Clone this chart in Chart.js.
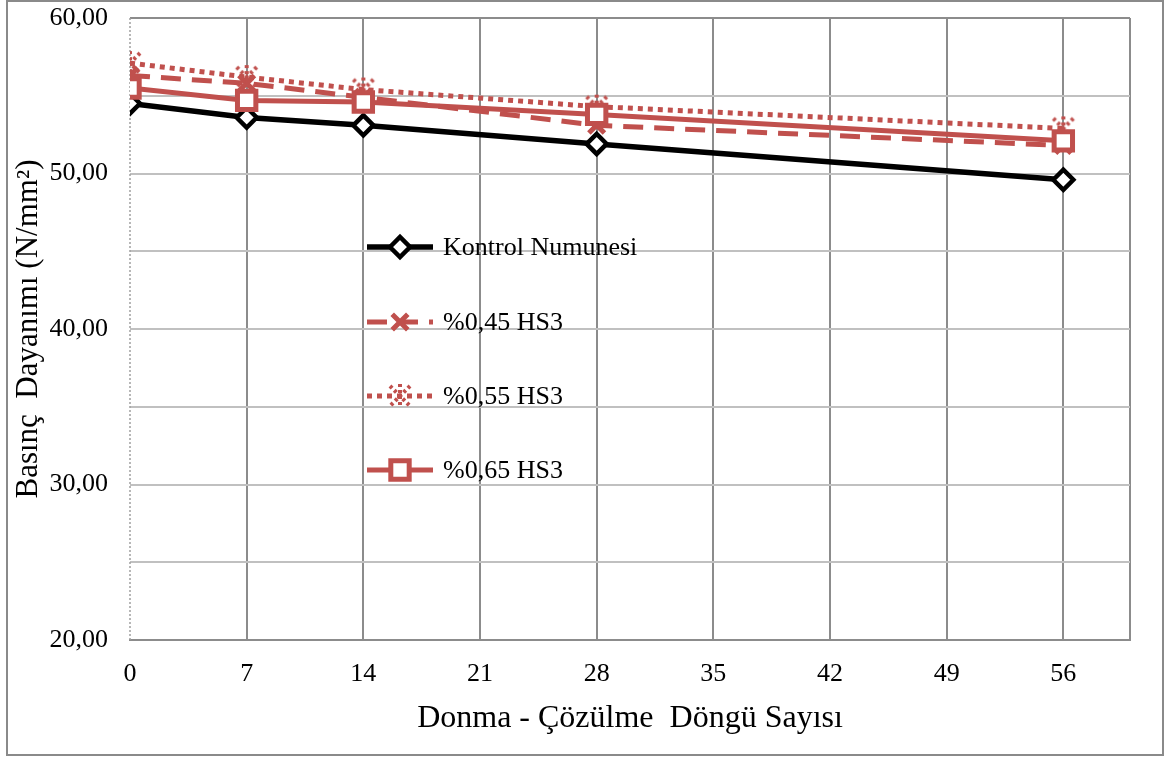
<!DOCTYPE html>
<html>
<head>
<meta charset="utf-8">
<script src="https://cdn.jsdelivr.net/npm/chart.js@4/dist/chart.umd.min.js"></script>
<style>
  html, body { margin: 0; padding: 0; background: #fff; }
  #wrap { width: 1165px; height: 758px; position: relative; }
</style>
</head>
<body>
<div id="wrap"><canvas id="strengthChart" width="1165" height="758"></canvas></div>
<script>
// freeze-thaw cycles and compressive strength (N/mm2)
const cycles = [0, 7, 14, 28, 56];
const kontrol = [54.5, 53.6, 53.1, 51.9, 49.6];
const hs045 = [56.3, 55.8, 54.9, 53.1, 51.8];
const hs055 = [57.1, 56.2, 55.4, 54.3, 52.9];
const hs065 = [55.5, 54.7, 54.6, 53.8, 52.1];
const seriesNames = ['Kontrol Numunesi', '%0,45 HS3', '%0,55 HS3', '%0,65 HS3'];
const xTicks = [0, 7, 14, 21, 28, 35, 42, 49, 56];

const RED = '#C0504D';
const FONT = 'Liberation Serif';

function toPoints(values) {
    return cycles.map((c, i) => ({ x: c, y: values[i] }));
}

// asterisk marker drawn with a dotted pen
function dottedStar(color) {
    const c = document.createElement('canvas');
    c.width = 26; c.height = 26;
    const g = c.getContext('2d');
    g.strokeStyle = color;
    g.lineWidth = 4;
    g.setLineDash([3, 3]);
    g.beginPath();
    g.moveTo(13, 1); g.lineTo(13, 25);
    g.moveTo(3, 3); g.lineTo(23, 23);
    g.moveTo(23, 3); g.lineTo(3, 23);
    g.stroke();
    return c;
}
const starImg = dottedStar(RED);

// dotted value axis line on the left edge of the plot
const leftAxis = {
    id: 'leftAxis',
    beforeDatasetsDraw(chart) {
        const { ctx, chartArea: a } = chart;
        ctx.save();
        ctx.strokeStyle = '#a0a0a0';
        ctx.lineWidth = 1.5;
        ctx.setLineDash([2, 2]);
        ctx.beginPath();
        ctx.moveTo(a.left, a.top);
        ctx.lineTo(a.left, a.bottom);
        ctx.stroke();
        ctx.restore();
    }
};

// legend inside the plot, line sample + marker + label
const innerLegend = {
    id: 'innerLegend',
    afterDatasetsDraw(chart) {
        const ctx = chart.ctx;
        const rows = [247, 322, 396, 470];
        chart.data.datasets.forEach((ds, i) => {
            const y = rows[i];
            ctx.save();
            ctx.strokeStyle = ds.borderColor;
            ctx.lineWidth = ds.borderWidth;
            ctx.setLineDash(ds.borderDash ? ds.borderDash : []);
            ctx.beginPath();
            ctx.moveTo(367, y);
            ctx.lineTo(433, y);
            ctx.stroke();
            ctx.setLineDash([]);
            ctx.strokeStyle = ds.pointBorderColor;
            ctx.fillStyle = ds.pointBackgroundColor;
            ctx.lineWidth = ds.pointBorderWidth;
            Chart.helpers.drawPoint(ctx, {
                pointStyle: ds.pointStyle,
                radius: ds.pointRadius,
                borderWidth: ds.pointBorderWidth,
                rotation: 0
            }, 400, y);
            ctx.fillStyle = '#000';
            ctx.font = '26px "' + FONT + '"';
            ctx.textBaseline = 'middle';
            ctx.fillText(seriesNames[i], 443, y + 1);
            ctx.restore();
        });
    }
};

// outer frame around the whole chart
const frame = {
    id: 'frame',
    afterDraw(chart) {
        const ctx = chart.ctx;
        ctx.save();
        ctx.strokeStyle = '#8a8a8a';
        ctx.lineWidth = 2;
        ctx.strokeRect(7, 1, 1156, 754);
        ctx.restore();
    }
};

new Chart(document.getElementById('strengthChart'), {
    type: 'line',
    data: {
        datasets: [{
            label: seriesNames[0],
            data: toPoints(kontrol),
            borderColor: '#000',
            borderWidth: 5.5,
            pointStyle: 'rectRot',
            pointRadius: 10,
            pointBorderWidth: 4.5,
            pointBorderColor: '#000',
            pointBackgroundColor: '#fff',
            order: 4
        }, {
            label: seriesNames[1],
            data: toPoints(hs045),
            borderColor: RED,
            borderWidth: 5,
            borderDash: [20, 11],
            pointStyle: 'crossRot',
            pointRadius: 11,
            pointBorderWidth: 5,
            pointBorderColor: RED,
            pointBackgroundColor: RED,
            order: 3
        }, {
            label: seriesNames[2],
            data: toPoints(hs055),
            borderColor: RED,
            borderWidth: 5,
            borderDash: [5, 5],
            pointStyle: starImg,
            pointRadius: 12,
            pointBorderWidth: 3,
            pointBorderColor: RED,
            pointBackgroundColor: RED,
            order: 2
        }, {
            label: seriesNames[3],
            data: toPoints(hs065),
            borderColor: RED,
            borderWidth: 5,
            pointStyle: 'rect',
            pointRadius: 13,
            pointBorderWidth: 5,
            pointBorderColor: RED,
            pointBackgroundColor: '#fff',
            order: 1
        }]
    },
    options: {
        responsive: false,
        animation: false,
        layout: { padding: { left: 0, top: 0, right: 35, bottom: 0 } },
        plugins: {
            legend: { display: false },
            tooltip: { enabled: false }
        },
        scales: {
            x: {
                type: 'linear',
                min: 0,
                max: 60,
                afterBuildTicks: scale => {
                    scale.ticks = xTicks.concat([60]).map(v => ({ value: v }));
                },
                afterFit: scale => { scale.height = 118; },
                ticks: {
                    padding: 19,
                    maxRotation: 0,
                    color: '#000',
                    font: { family: FONT, size: 26 },
                    callback: v => (v === 60 ? '' : v)
                },
                grid: {
                    drawTicks: false,
                    lineWidth: 2,
                    color: ctx => (ctx.tick && ctx.tick.value === 0 ? 'rgba(0,0,0,0)' : '#8c8c8c')
                },
                border: { color: '#8c8c8c', width: 2 },
                title: {
                    display: true,
                    text: 'Donma - Çözülme  Döngü Sayısı',
                    color: '#000',
                    font: { family: FONT, size: 32 },
                    padding: { top: 0, bottom: 20 }
                }
            },
            y: {
                min: 20,
                max: 60,
                afterFit: scale => {
                    scale.width = 130;
                    // room above the plot for the top tick label only
                    scale.paddingTop = 15;
                    scale.paddingBottom = 0;
                },
                ticks: {
                    stepSize: 5,
                    padding: 22,
                    color: '#000',
                    font: { family: FONT, size: 26 },
                    callback: v => (v % 10 === 0 ? v.toFixed(2).replace('.', ',') : '')
                },
                grid: {
                    drawTicks: false,
                    lineWidth: 2,
                    color: ctx => (ctx.tick && ctx.tick.value === 60 ? '#8c8c8c' : '#c0c0c0')
                },
                border: { display: false },
                title: {
                    display: true,
                    text: 'Basınç  Dayanımı (N/mm²)',
                    color: '#000',
                    font: { family: FONT, size: 31 },
                    padding: { top: 10, bottom: 0 }
                }
            }
        }
    },
    plugins: [leftAxis, innerLegend, frame]
});
</script>
</body>
</html>
